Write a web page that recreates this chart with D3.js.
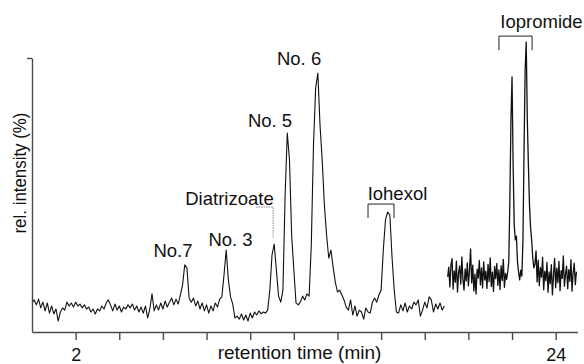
<!DOCTYPE html>
<html>
<head>
<meta charset="utf-8">
<script src="https://cdn.jsdelivr.net/npm/d3@7"></script>
<style>
  body { margin: 0; background: #fff; }
  .trace { fill: none; stroke: #111; stroke-width: 1.1px; stroke-linejoin: round; }
  .trace.dense { stroke-width: 1.3px; }
  .axis path, .axis line { stroke: #4a4a4a; stroke-width: 1.4px; }
  .axis text { font-family: 'Liberation Sans', Arial, sans-serif; font-size: 18px; fill: #111; }
  .label { font-family: 'Liberation Sans', Arial, sans-serif; fill: #111; }
  .bracket { fill: none; stroke: #222; stroke-width: 1px; }
  .leader { fill: none; stroke: #888; stroke-width: 1px; stroke-dasharray: 1.5,1; }
</style>
</head>
<body>
<div id="chart"></div>
<script>
// first run, 0 - 18.9 min, sampled every 0.1 min (rel. intensity %)
const run1Start = 0;
const run1Step = 0.1;
const run1 = [
  10.6, 11.7, 9.9, 12.0, 8.8, 10.9, 7.7, 10.6, 6.9, 9.5,
  6.6, 8.4, 4.0, 7.3, 8.8, 8.0, 10.9, 9.5, 10.6, 9.1,
  10.9, 9.5, 10.2, 8.8, 9.9, 8.4, 9.1, 7.3, 8.4, 6.6,
  8.4, 7.7, 9.5, 8.4, 10.6, 11.7, 9.9, 7.7, 10.2, 8.0,
  9.5, 7.3, 9.1, 8.4, 9.9, 8.8, 10.2, 8.0, 9.5, 7.3,
  9.1, 6.9, 9.5, 5.1, 8.4, 13.9, 7.7, 9.9, 8.0, 10.6,
  8.4, 11.3, 9.1, 10.9, 12.4, 9.9, 12.0, 10.2, 13.5, 17.2,
  24.5, 23.4, 12.4, 10.9, 12.4, 9.5, 11.3, 8.4, 10.6, 7.7,
  9.9, 6.9, 9.5, 7.7, 10.6, 9.1, 12.0, 12.8, 20.8, 29.9,
  19.0, 12.8, 10.2, 5.1, 5.8, 4.7, 6.6, 4.4, 6.2, 4.0,
  6.9, 5.1, 7.3, 6.2, 7.7, 6.6, 7.3, 6.9, 8.0, 15.3,
  28.1, 32.1, 22.6, 13.1, 10.9, 15.3, 50.0, 72.6, 62.8, 35.4,
  22.6, 10.6, 9.9, 10.9, 13.1, 11.7, 13.9, 13.1, 31.8, 68.2,
  89.1, 94.5, 75.5, 62.8, 46.4, 35.4, 27.0, 29.9, 23.7, 18.2,
  14.6, 15.3, 13.5, 11.7, 9.1, 8.0, 11.7, 6.2, 9.5, 5.8,
  8.0, 7.3, 4.7, 8.8, 7.3, 6.9, 10.9, 12.4, 10.9, 13.5,
  15.3, 29.9, 40.9, 43.8, 42.7, 27.4, 15.3, 7.3, 6.9, 9.9,
  7.7, 10.6, 7.3, 9.5, 8.4, 10.9, 9.9, 11.7, 5.8, 8.0,
  10.9, 8.8, 12.8, 11.7, 7.3, 10.2, 8.4, 10.6, 8.0, 9.5
];

// second run (Iopromide), 19.05 - 24.95 min, sampled every 0.05 min
const run2Start = 19.05;
const run2Step = 0.05;
const run2 = [
  20.1, 23.7, 16.4, 24.5, 26.8, 15.7, 22.3, 18.2, 25.9, 14.6,
  21.5, 24.1, 17.5, 27.4, 19.3, 15.3, 23.0, 18.6, 25.2, 16.8,
  22.6, 30.3, 17.9, 24.4, 15.0, 21.1, 13.9, 22.9, 19.7, 26.1,
  17.2, 23.4, 16.1, 25.6, 19.0, 22.2, 15.9, 24.7, 18.4, 27.0,
  16.6, 21.8, 14.8, 23.9, 19.5, 25.0, 17.0, 22.7, 15.5, 24.2,
  18.8, 26.5, 16.3, 21.4, 19.2,
  21.9, 25.5, 48.2, 77.4, 93.1, 60.9, 39.1, 33.6, 35.0, 25.5,
  21.9, 19.0, 22.6, 20.4, 33.6, 66.4, 95.6, 105.8, 77.4, 60.9,
  46.4, 38.0, 33.6, 27.0, 23.4,
  24.8, 29.6, 18.3, 26.2, 16.9, 23.5, 20.0, 27.3, 15.4, 22.1,
  18.7, 25.4, 14.5, 21.9, 17.6, 24.6, 13.6, 20.6, 26.9, 16.2,
  23.3, 18.0, 25.8, 15.1, 22.4, 19.6, 27.8, 16.7, 21.2, 24.0,
  15.8, 22.8, 18.5, 26.4, 14.9, 21.6, 25.1, 17.3, 22.0
];

const xTickValues = [2, 4, 6, 8, 10, 12, 14, 16, 18, 20, 22, 24];
const xLabelledTicks = [2, 24];
const yTickValues = [100];

// peak names
const peakNames = ['No.7', 'No. 3', 'Diatrizoate', 'No. 5', 'No. 6', 'Iohexol', 'Iopromide'];
const peakNameTime = [6.46, 9.10, 9.05, 10.91, 12.24, 16.75, 23.35];
const peakNameLevel = [27.4, 31.4, 46.4, 74.8, 97.4, 48.2, 110.9];

// brackets over isomer pairs
const bracketStart = [15.40, 21.40];
const bracketEnd = [16.59, 22.92];
const bracketTop = [46.7, 108.0];
const bracketFoot = [41.6, 102.9];

// dotted leader Diatrizoate -> peak
const leaderTime = [10.27, 11.05, 11.05];
const leaderLevel = [45.6, 45.6, 34.3];

function createChart() {
  const width = 584, height = 364;
  const svg = d3.select('#chart').append('svg')
    .attr('width', width)
    .attr('height', height);

  const x = d3.scaleLinear().domain([0, 25]).range([32, 577.5]);
  const y = d3.scaleLinear().domain([0, 100]).range([332, 58]);

  const line = d3.line()
    .x(d => x(d.t))
    .y(d => y(d.v));

  const trace1 = run1.map((v, i) => ({ t: run1Start + i * run1Step, v }));
  const trace2 = run2.map((v, i) => ({ t: run2Start + i * run2Step, v }));

  svg.append('path').datum(trace1).attr('class', 'trace').attr('d', line);
  svg.append('path').datum(trace2).attr('class', 'trace dense').attr('d', line);

  // axes
  svg.append('g')
    .attr('class', 'axis')
    .attr('transform', `translate(0,${y(0)})`)
    .call(d3.axisBottom(x)
      .tickValues(xTickValues)
      .tickSize(8)
      .tickSizeOuter(0)
      .tickPadding(8)
      .tickFormat(d => xLabelledTicks.includes(d) ? d : ''));

  svg.append('g')
    .attr('class', 'axis')
    .attr('transform', `translate(${x(0)},0)`)
    .call(d3.axisLeft(y)
      .tickValues(yTickValues)
      .tickSize(5)
      .tickSizeOuter(0)
      .tickFormat(''));

  svg.append('text')
    .attr('class', 'label')
    .attr('x', 299.5)
    .attr('y', 359)
    .attr('text-anchor', 'middle')
    .style('font-size', '19px')
    .text('retention time (min)');

  svg.append('text')
    .attr('class', 'label')
    .attr('transform', 'translate(26,173) rotate(-90)')
    .attr('text-anchor', 'middle')
    .attr('textLength', 121)
    .attr('lengthAdjust', 'spacingAndGlyphs')
    .style('font-size', '18px')
    .text('rel. intensity (%)');

  // peak labels
  svg.selectAll('.peak')
    .data(peakNames)
    .enter().append('text')
    .attr('class', 'label peak')
    .attr('x', (d, i) => x(peakNameTime[i]))
    .attr('y', (d, i) => y(peakNameLevel[i]))
    .attr('text-anchor', 'middle')
    .style('font-size', '18.5px')
    .text(d => d);

  // brackets
  bracketStart.forEach((s, i) => {
    const pts = [[s, bracketFoot[i]], [s, bracketTop[i]], [bracketEnd[i], bracketTop[i]], [bracketEnd[i], bracketFoot[i]]];
    svg.append('path')
      .attr('class', 'bracket')
      .attr('d', d3.line().x(p => x(p[0])).y(p => y(p[1]))(pts));
  });

  svg.append('path')
    .attr('class', 'leader')
    .attr('d', d3.line().x(p => x(p[0])).y(p => y(p[1]))(leaderTime.map((t, i) => [t, leaderLevel[i]])));
}

createChart();
</script>
</body>
</html>
